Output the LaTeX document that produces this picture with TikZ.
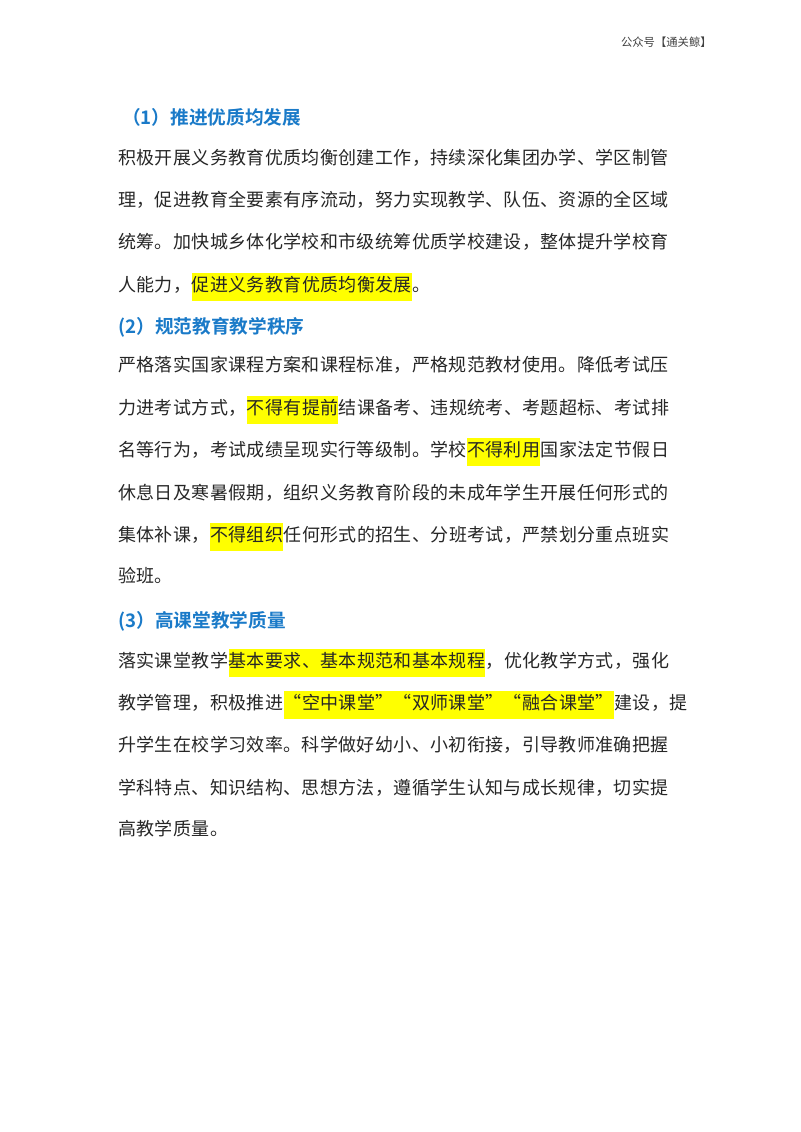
\documentclass[tikz,border=0pt]{standalone}
\usepackage{fontspec}
\newfontfamily\cjk[LetterSpace=2]{Noto Sans CJK SC}
\newfontfamily\cjkh{Noto Sans CJK SC}[BoldFont={Noto Sans CJK SC Bold}]
\definecolor{hblue}{RGB}{26,122,200}
\definecolor{hlyel}{RGB}{255,255,0}
\begin{document}
\begin{tikzpicture}[x=0.75pt,y=-0.75pt,
  tx/.style={inner sep=0pt,anchor=west,font=\cjk\fontsize{13.5pt}{16pt}\selectfont,text height=0.85em,text depth=0.15em,text=black!85},
  hl/.style={fill=hlyel,inner ysep=5.5pt},
  hd/.style={inner sep=0pt,anchor=west,font=\cjkh\bfseries\fontsize{14pt}{16pt}\selectfont,text=hblue},
  wm/.style={inner sep=0pt,anchor=east,font=\cjkh\fontsize{8.5pt}{10pt}\selectfont,text=black!75}]
\useasboundingbox (0,0) rectangle (800,1132);
\node[wm] (wm) at (712,42) {公众号【通关鲸】};
\node[hd] (h1) at (122,117) {（1）推进优质均发展};
\node[tx] (a1) at (118,160) {积极开展义务教育优质均衡创建工作，持续深化集团办学、学区制管};
\node[tx] (a2) at (118,202) {理，促进教育全要素有序流动，努力实现教学、队伍、资源的全区域};
\node[tx] (a3) at (118,244) {统筹。加快城乡体化学校和市级统筹优质学校建设，整体提升学校育};
\node[tx] (a4a) at (118,287) {人能力，};
\node[tx,hl] (a4b) at (a4a.east) {促进义务教育优质均衡发展};
\node[tx] (a4c) at (a4b.east) {。};
\node[hd] (h2) at (118,327) {(2）规范教育教学秩序};
\node[tx] (b1) at (118,367) {严格落实国家课程方案和课程标准，严格规范教材使用。降低考试压};
\node[tx] (b2a) at (118,410) {力进考试方式，};
\node[tx,hl] (b2b) at (b2a.east) {不得有提前};
\node[tx] (b2c) at (b2b.east) {结课备考、违规统考、考题超标、考试排};
\node[tx] (b3a) at (118,452) {名等行为，考试成绩呈现实行等级制。学校};
\node[tx,hl] (b3b) at (b3a.east) {不得利用};
\node[tx] (b3c) at (b3b.east) {国家法定节假日};
\node[tx] (b4) at (118,495) {休息日及寒暑假期，组织义务教育阶段的未成年学生开展任何形式的};
\node[tx] (b5a) at (118,537) {集体补课，};
\node[tx,hl] (b5b) at (b5a.east) {不得组织};
\node[tx] (b5c) at (b5b.east) {任何形式的招生、分班考试，严禁划分重点班实};
\node[tx] (b6) at (118,578) {验班。};
\node[hd] (h3) at (118,621) {(3）高课堂教学质量};
\node[tx] (c1a) at (118,663) {落实课堂教学};
\node[tx,hl] (c1b) at (c1a.east) {基本要求、基本规范和基本规程};
\node[tx] (c1c) at (c1b.east) {，优化教学方式，强化};
\node[tx] (c2a) at (118,705) {教学管理，积极推进};
\node[tx,hl] (c2b) at (c2a.east) {“空中课堂”“双师课堂”“融合课堂”};
\node[tx] (c2c) at (c2b.east) {建设，提};
\node[tx] (c3) at (118,747) {升学生在校学习效率。科学做好幼小、小初衔接，引导教师准确把握};
\node[tx] (c4) at (118,790) {学科特点、知识结构、思想方法，遵循学生认知与成长规律，切实提};
\node[tx] (c5) at (118,831) {高教学质量。};
\end{tikzpicture}
\end{document}
